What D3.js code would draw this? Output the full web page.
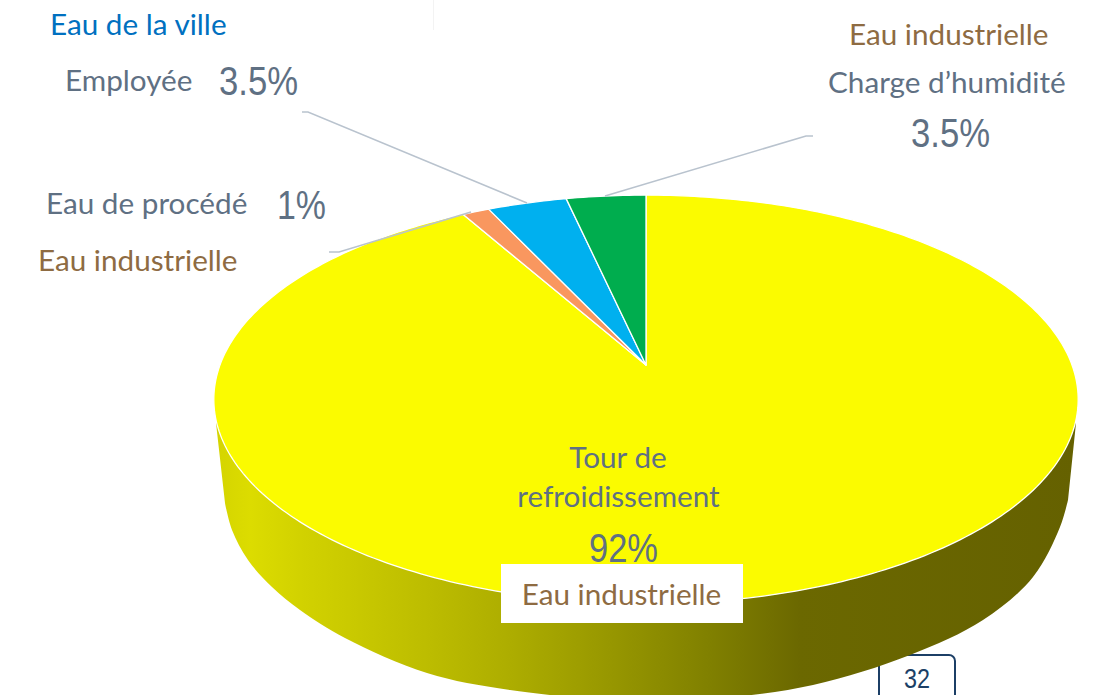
<!DOCTYPE html>
<html lang="fr"><head><meta charset="utf-8">
<script src="https://cdn.jsdelivr.net/npm/d3@7"></script>
<style>html,body{margin:0;padding:0;background:#fff;overflow:hidden}svg{display:block}</style>
</head><body><svg id="c" width="1116" height="695"></svg>
<script>
// Data (angles; labels as printed)
const categories = ["Tour de refroidissement", "Eau de procédé", "Employée", "Charge d’humidité"];
const values = [91.8, 1.2, 3.5, 3.5];
const sliceColors = ["#fbfb00", "#f9975f", "#00b0ef", "#00ad4e"];
const valueLabels = ["92%", "1%", "3.5%", "3.5%"];
const sourceLabels = ["Eau industrielle", "Eau de la ville"];
const pageNumber = "32";

const svg = d3.select("#c");
const slate = "#5f7083", brown = "#8e6b42", blue = "#0070c0", leader = "#b9c3ce";
const sans = "Lato, Carlito, sans-serif", num = "'Liberation Sans', Arial, sans-serif";

// Perspective projection of the unit disc: apex at the true centre
const apex = [646, 365], A = 426, B = 198.5, P = -0.1685;
const project = (t, r = 1) => {
  const u = r * Math.sin(t), v = -r * Math.cos(t), w = 1 + P * v;
  return [apex[0] + A * u / w, apex[1] + B * v / w];
};
const line = d3.line();

// Page-number box (sits under the pie)
svg.append("path").attr("d", "M879,700V661a6,6 0 0 1 6,-6H949a6,6 0 0 1 6,6V700")
  .attr("fill", "#fff").attr("stroke", "#1c3f66").attr("stroke-width", 2);
svg.append("text").attr("x", 917).attr("y", 688).attr("text-anchor", "middle")
  .attr("font-family", num).attr("font-size", 28).attr("fill", "#1c3f66")
  .attr("textLength", 26).attr("lengthAdjust", "spacingAndGlyphs").text(pageNumber);

// Faint vertical trace at the top of the page
svg.append("line").attr("x1", 433.5).attr("x2", 433.5).attr("y1", 0).attr("y2", 30).attr("stroke", "#f3f3f3");

// Side wall: outline
const defs = svg.append("defs");
const grad = defs.append("linearGradient").attr("id", "side").attr("gradientUnits", "userSpaceOnUse")
  .attr("x1", 214).attr("x2", 1078).attr("y1", 0).attr("y2", 0);
const wallX = d3.scaleLinear().domain([214, 1078]).range([0, 1]);
[[214, "#d4d400"], [250, "#dcdc00"], [300, "#d2d200"], [360, "#c8c800"], [430, "#bcbc00"], [510, "#adad00"],
 [610, "#979700"], [710, "#808000"], [800, "#6b6800"], [1078, "#656100"]]
  .forEach(([x, c]) => grad.append("stop").attr("offset", wallX(x)).attr("stop-color", c));
const wallEdge = [[225, 503], [232, 530], [248, 560], [272, 587], [300, 610], [345, 638], [427, 673],
  [510, 690], [646, 702], [713, 699], [813, 685], [910, 655], [983, 620], [1033, 577], [1060, 527], [1068, 500]];
const wallCurve = d3.line().curve(d3.curveCatmullRom.alpha(0.5));
svg.append("path")
  .attr("d", "M216,423L" + wallCurve(wallEdge).slice(1) + "L1076,423Z")
  .attr("fill", "url(#side)");

// Top face from d3.pie, projected through perspective
const pie = d3.pie().sort(null).value(d => d)(values);
svg.append("g").selectAll("path").data(pie).join("path")
  .attr("d", d => {
    const n = Math.max(4, Math.ceil((d.endAngle - d.startAngle) * 60));
    const pts = d3.range(n + 1).map(i => project(d.startAngle + (d.endAngle - d.startAngle) * i / n));
    return line([apex, ...pts]) + "Z";
  })
  .attr("fill", (d, i) => sliceColors[i])
  .attr("stroke", "#fff").attr("stroke-width", 1.3).attr("stroke-linejoin", "round");

// Leader lines
[[[302, 112], [308, 112], [527, 203]],
 [[813, 136], [806, 136], [605, 196]],
 [[329, 252], [339, 252], [471, 212]]].forEach(p =>
  svg.append("path").attr("d", line(p)).attr("fill", "none").attr("stroke", leader).attr("stroke-width", 1.5));

// White plate behind the bottom label
svg.append("rect").attr("x", 501).attr("y", 564).attr("width", 242).attr("height", 59).attr("fill", "#fff");

const label = (txt, x, y, fill, anchor = "start") =>
  svg.append("text").attr("x", x).attr("y", y).attr("text-anchor", anchor)
    .attr("font-family", sans).attr("font-size", 29.7).attr("fill", fill).text(txt);
const number = (txt, x, y, w) =>
  svg.append("text").attr("x", x).attr("y", y).attr("font-family", num).attr("font-size", 41)
    .attr("fill", slate).attr("textLength", w).attr("lengthAdjust", "spacingAndGlyphs").text(txt);

label(sourceLabels[1], 50, 35, blue);
label(categories[2], 65, 91, slate);
number(valueLabels[2], 219, 95, 79);
label(sourceLabels[0], 849, 45, brown);
label(categories[3], 828, 93, slate);
number(valueLabels[3], 911, 147, 79);
label(categories[1], 46, 214, slate);
number(valueLabels[1], 277, 219, 49);
label(sourceLabels[0], 38, 271, brown);
label("Tour de", 618, 468, slate, "middle");
label("refroidissement", 618.5, 507, slate, "middle");
number(valueLabels[0], 589, 562, 69);
label(sourceLabels[0], 621.5, 605, brown, "middle");
</script></body></html>
